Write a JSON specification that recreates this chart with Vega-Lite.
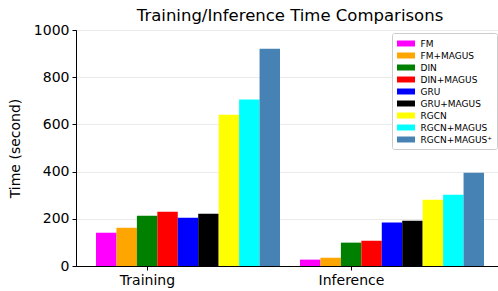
{
  "$schema": "https://vega.github.io/schema/vega-lite/v6.json",
  "autosize": {"type": "none"},
  "padding": {"left": 76, "top": 30, "right": 0, "bottom": 25},
  "width": 428,
  "height": 236,
  "background": "white",
  "title": {"text": "Training/Inference Time Comparisons", "font": "DejaVu Sans", "fontSize": 16.5, "fontWeight": "normal", "color": "black", "offset": -1, "anchor": "middle"},
  "data": {"values": [
    {"phase": "Training", "model": "FM", "time": 141},
    {"phase": "Training", "model": "FM+MAGUS", "time": 162},
    {"phase": "Training", "model": "DIN", "time": 213},
    {"phase": "Training", "model": "DIN+MAGUS", "time": 230},
    {"phase": "Training", "model": "GRU", "time": 204},
    {"phase": "Training", "model": "GRU+MAGUS", "time": 221},
    {"phase": "Training", "model": "RGCN", "time": 641},
    {"phase": "Training", "model": "RGCN+MAGUS", "time": 705},
    {"phase": "Training", "model": "RGCN+MAGUS⁺", "time": 921},
    {"phase": "Inference", "model": "FM", "time": 27},
    {"phase": "Inference", "model": "FM+MAGUS", "time": 35},
    {"phase": "Inference", "model": "DIN", "time": 99},
    {"phase": "Inference", "model": "DIN+MAGUS", "time": 107},
    {"phase": "Inference", "model": "GRU", "time": 184},
    {"phase": "Inference", "model": "GRU+MAGUS", "time": 192},
    {"phase": "Inference", "model": "RGCN", "time": 281},
    {"phase": "Inference", "model": "RGCN+MAGUS", "time": 302},
    {"phase": "Inference", "model": "RGCN+MAGUS⁺", "time": 395}
  ]},
  "mark": {"type": "bar"},
  "encoding": {
    "x": {
      "field": "phase", "type": "nominal", "sort": ["Training", "Inference"],
      "scale": {"paddingInner": 0.098, "paddingOuter": 0.098},
      "axis": {"title": null, "labelAngle": 0, "tickOffset": -41, "labelFont": "DejaVu Sans", "labelFontSize": 14, "labelColor": "black", "labelPadding": 3, "tickColor": "black", "tickSize": 4, "domainColor": "black", "grid": false}
    },
    "xOffset": {"field": "model", "type": "nominal", "sort": ["FM", "FM+MAGUS", "DIN", "DIN+MAGUS", "GRU", "GRU+MAGUS", "RGCN", "RGCN+MAGUS", "RGCN+MAGUS⁺"], "scale": {"paddingInner": 0, "paddingOuter": 0}},
    "y": {
      "field": "time", "type": "quantitative",
      "scale": {"domain": [0, 1000], "nice": false},
      "axis": {"title": "Time (second)", "values": [0, 200, 400, 600, 800, 1000], "format": "d", "titleFont": "DejaVu Sans", "titleFontSize": 14, "titleFontWeight": "normal", "titleColor": "black", "titlePadding": 11, "labelFont": "DejaVu Sans", "labelFontSize": 14, "labelColor": "black", "labelPadding": 3, "tickColor": "black", "tickSize": 4, "domainColor": "black", "grid": true, "gridColor": "#ebebeb", "gridWidth": 1}
    },
    "color": {
      "field": "model", "type": "nominal",
      "sort": ["FM", "FM+MAGUS", "DIN", "DIN+MAGUS", "GRU", "GRU+MAGUS", "RGCN", "RGCN+MAGUS", "RGCN+MAGUS⁺"],
      "scale": {"domain": ["FM", "FM+MAGUS", "DIN", "DIN+MAGUS", "GRU", "GRU+MAGUS", "RGCN", "RGCN+MAGUS", "RGCN+MAGUS⁺"], "range": ["#ff00ff", "#ffa500", "#008000", "#ff0000", "#0000ff", "#000000", "#ffff00", "#00ffff", "#4682b4"]},
      "legend": {
        "title": null, "orient": "none", "legendX": 316, "legendY": 3,
        "symbolType": "M-1.385,-0.46H1.385V0.46H-1.385Z", "symbolSize": 169, "symbolStrokeWidth": 0, "symbolOffset": 3.5,
        "labelFont": "DejaVu Sans", "labelFontSize": 9, "labelColor": "black", "labelOffset": 8,
        "rowPadding": 0, "padding": 4, "strokeColor": "#cccccc", "fillColor": "white", "cornerRadius": 2
      }
    }
  },
  "config": {"view": {"stroke": "black", "strokeWidth": 1}, "axis": {"domainWidth": 1, "tickWidth": 1}}
}
